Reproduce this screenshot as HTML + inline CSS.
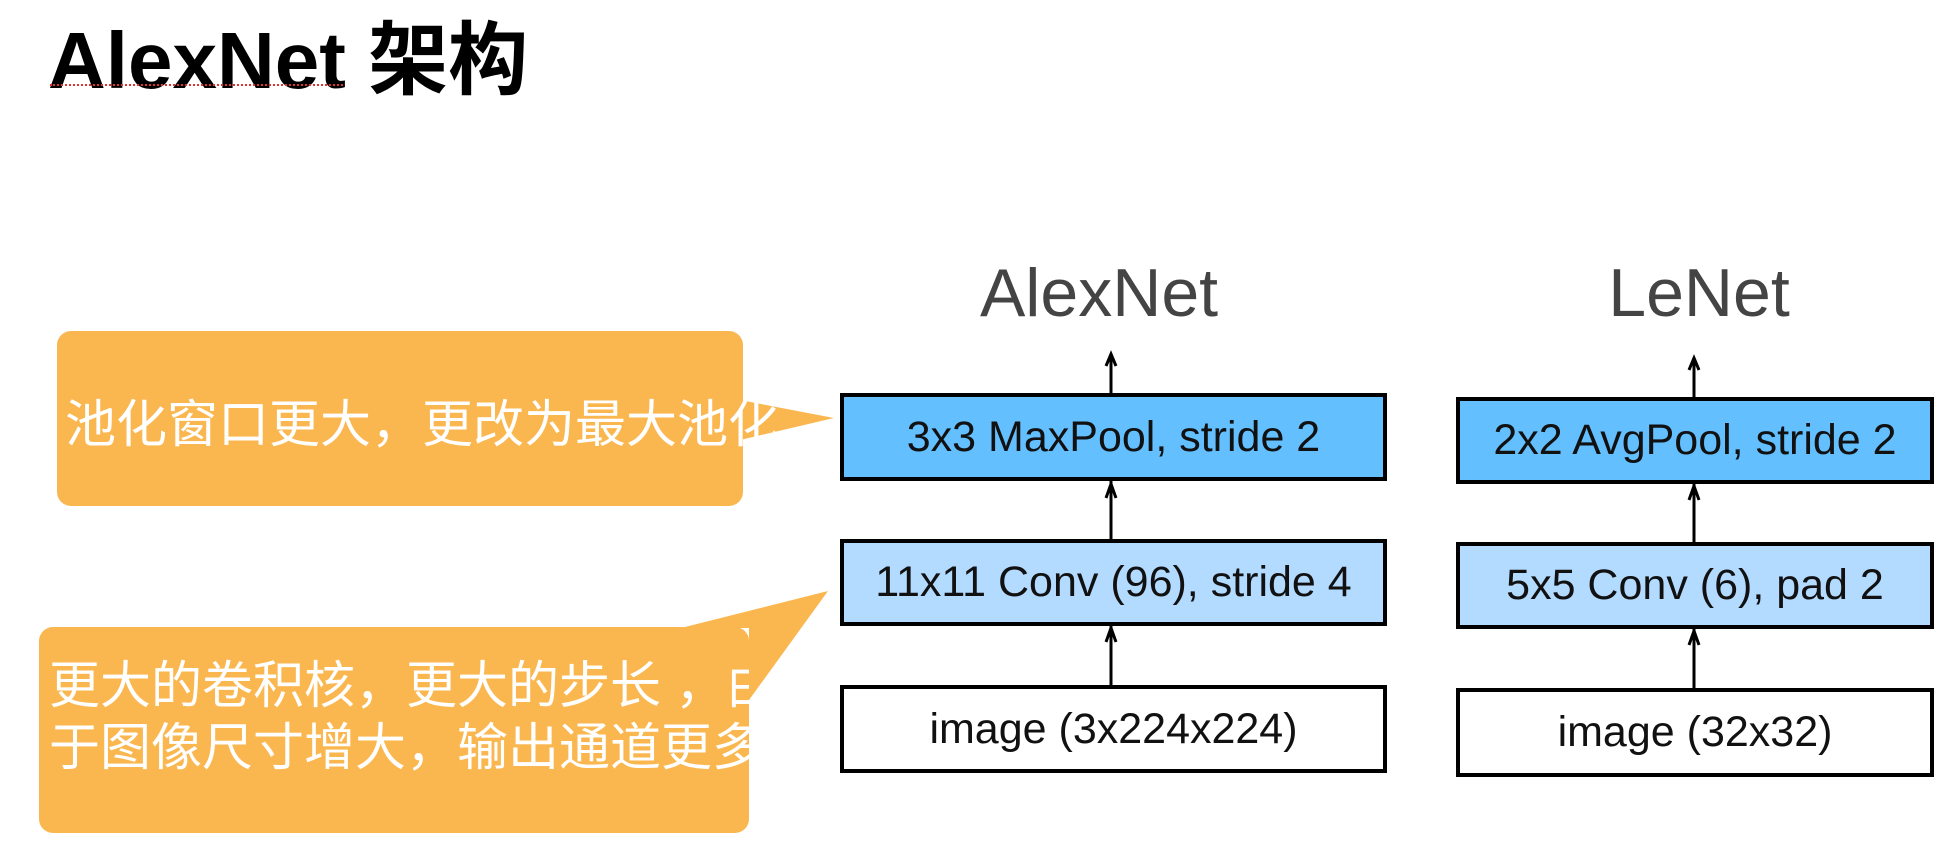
<!DOCTYPE html>
<html><head><meta charset="utf-8"><style>
body{margin:0;width:1958px;height:858px;background:#fff;position:relative;overflow:hidden;font-family:"Liberation Sans","Noto Sans CJK SC",sans-serif}
.a{position:absolute}
.box{position:absolute;border:4px solid #000;box-sizing:border-box;display:flex;align-items:center;justify-content:center;font-size:43px;color:#111}
.lbl{position:absolute;font-size:68px;color:#444;text-align:center;width:400px}
.cn{color:#fff;font-size:51px;white-space:nowrap;line-height:62px}
</style></head><body>
<div class="a" style="left:48px;top:-4px;font-size:80px;font-weight:bold;color:#000;white-space:nowrap">AlexNet 架构</div>
<div class="a" style="left:50px;top:84px;width:293px;border-bottom:2px dotted #d33"></div>

<svg class="a" style="left:0;top:0" width="1958" height="858">
<rect x="57" y="331" width="686" height="175" rx="14" fill="#fbb74f"/>
<polygon points="740,400 834,418 740,440" fill="#fbb74f"/>
<rect x="39" y="627" width="710" height="206" rx="14" fill="#fbb74f"/>
<polygon points="681,628 828,591 749,700 749,628" fill="#fbb74f"/>
<g stroke="#000" stroke-width="3" fill="none">
<line x1="1111" y1="356" x2="1111" y2="393"/><polyline points="1106,366 1111,354 1116,366"/>
<line x1="1111" y1="480" x2="1111" y2="540"/><polyline points="1106,498 1111,484 1116,498"/>
<line x1="1111" y1="625" x2="1111" y2="686"/><polyline points="1106,642 1111,628 1116,642"/>
<line x1="1694" y1="360" x2="1694" y2="398"/><polyline points="1689,370 1694,358 1699,370"/>
<line x1="1694" y1="483" x2="1694" y2="543"/><polyline points="1689,500 1694,486 1699,500"/>
<line x1="1694" y1="628" x2="1694" y2="689"/><polyline points="1689,645 1694,631 1699,645"/>
</g>
</svg>

<div class="a" style="left:57px;top:394px;width:728px;overflow:hidden"><div class="cn" style="padding-left:8px">池化窗口更大，更改为最大池化</div></div>
<div class="a" style="left:39px;top:655px;width:710px;overflow:hidden"><div class="cn" style="padding-left:10px">更大的卷积核，更大的步长 ，由<br>于图像尺寸增大，输出通道更多</div></div>

<div class="lbl" style="left:899px;top:254px">AlexNet</div>
<div class="lbl" style="left:1499px;top:254px">LeNet</div>

<div class="box" style="left:840px;top:393px;width:547px;height:88px;background:#64bfff">3x3 MaxPool, stride 2</div>
<div class="box" style="left:840px;top:539px;width:547px;height:87px;background:#b3daff">11x11 Conv (96), stride 4</div>
<div class="box" style="left:840px;top:685px;width:547px;height:88px;background:#fff">image (3x224x224)</div>

<div class="box" style="left:1456px;top:397px;width:478px;height:87px;background:#64bfff">2x2 AvgPool, stride 2</div>
<div class="box" style="left:1456px;top:542px;width:478px;height:87px;background:#b3daff">5x5 Conv (6), pad 2</div>
<div class="box" style="left:1456px;top:688px;width:478px;height:89px;background:#fff">image (32x32)</div>
</body></html>
